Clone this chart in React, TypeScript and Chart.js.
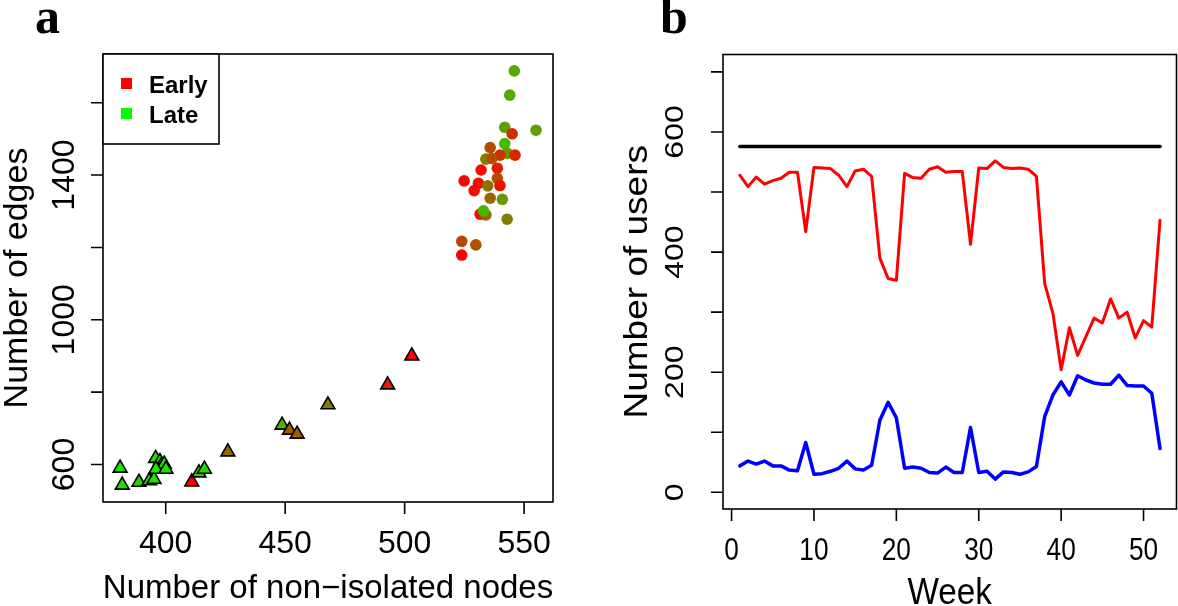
import React, { useEffect, useRef } from "react";
import { Chart, registerables } from "chart.js";

Chart.register(...registerables);

// ---------- Panel a: network size ----------
const circleNodes = [545.9, 544.0, 555.0, 541.9, 545.0, 541.9, 535.8, 543.0, 546.2, 539.9, 534.0, 536.5, 532.0, 538.8, 524.9, 530.9, 538.8, 534.8, 539.9, 529.1, 535.8, 540.9, 531.6, 534.0, 533.0, 542.9, 523.9, 529.8, 523.9];
const circleEdges = [1688, 1621, 1524, 1532, 1514, 1487, 1476, 1460, 1455, 1455, 1444, 1446, 1414, 1419, 1384, 1377, 1391, 1370, 1371, 1357, 1336, 1333, 1292, 1290, 1301, 1278, 1217, 1207, 1179];
const circleLateShare = [0.67, 0.67, 0.62, 0.62, 0.18, 0.72, 0.3, 0.6, 0.15, 0.2, 0.5, 0.3, 0.05, 0.12, 0.02, 0.05, 0.3, 0.45, 0.08, 0.05, 0.4, 0.6, 0.03, 0.4, 0.72, 0.5, 0.27, 0.33, 0.0];

const triNodes = [503.0, 492.9, 467.9, 448.7, 451.8, 455.0, 426.0, 380.9, 381.8, 388.8, 393.1, 395.1, 395.8, 397.6, 398.0, 399.4, 395.9, 400.1, 410.9, 413.9, 416.2];
const triEdges = [900, 820, 765, 709, 695, 684, 635, 590, 543, 551, 555, 559, 617, 608, 595, 601, 587, 587, 552, 577, 587];
const triLateShare = [0.0, 0.12, 0.5, 0.7, 0.35, 0.35, 0.4, 0.9, 0.88, 0.82, 0.85, 0.88, 0.88, 0.88, 0.9, 0.9, 0.9, 0.88, 0.0, 0.75, 0.85];

const legendLabels = ["Early", "Late"];
const aXTicks = [400, 450, 500, 550];
const aYTicks = [600, 800, 1000, 1200, 1400, 1600];
const aYLabelled = [600, 1000, 1400];
const aXTitle = "Number of non\u2212isolated nodes";
const aYTitle = "Number of edges";

// ---------- Panel b: weekly users ----------
const weeks = [1, 2, 3, 4, 5, 6, 7, 8, 9, 10, 11, 12, 13, 14, 15, 16, 17, 18, 19, 20, 21, 22, 23, 24, 25, 26, 27, 28, 29, 30, 31, 32, 33, 34, 35, 36, 37, 38, 39, 40, 41, 42, 43, 44, 45, 46, 47, 48, 49, 50, 51, 52];
const earlyUsers = [528, 509, 525, 513, 519, 523, 533, 533, 434, 541, 540, 539, 528, 509, 535, 538, 526, 390, 356, 353, 531, 524, 523, 538, 542, 533, 534, 534, 413, 540, 539, 552, 541, 539, 540, 538, 526, 348, 298, 204, 274, 228, 259, 290, 282, 322, 290, 300, 257, 286, 275, 453];
const lateUsers = [44, 52, 47, 52, 44, 44, 37, 36, 83, 30, 31, 35, 40, 52, 39, 37, 45, 120, 150, 124, 40, 42, 40, 33, 32, 42, 33, 33, 108, 33, 35, 22, 34, 33, 30, 34, 43, 126, 162, 184, 162, 194, 187, 182, 180, 180, 195, 178, 177, 177, 165, 73];
const totalUsers = 576;
const bXTicks = [0, 10, 20, 30, 40, 50];
const bYTicks = [0, 100, 200, 300, 400, 500, 600, 700];
const bYLabelled = [0, 200, 400, 600];
const bXTitle = "Week";
const bYTitle = "Number of users";

const SANS = '"Liberation Sans", Arial, Helvetica, sans-serif';
const SERIF = '"Liberation Serif", "Times New Roman", serif';

function mixColor(t: number) {
  return `rgb(${Math.round(255 * (1 - t))},${Math.round(255 * t)},0)`;
}

function drawText(
  ctx: CanvasRenderingContext2D,
  s: string,
  x: number,
  y: number,
  font: string,
  align: CanvasTextAlign,
  baseline: CanvasTextBaseline,
  rot = false,
  sx = 1
) {
  ctx.save();
  ctx.translate(x, y);
  ctx.scale(sx, 1);
  if (rot) ctx.rotate(-Math.PI / 2);
  ctx.font = font;
  ctx.textAlign = align;
  ctx.textBaseline = baseline;
  ctx.fillStyle = "#000";
  ctx.fillText(s, 0, 0);
  ctx.restore();
}

type AxisCfg = {
  xTicks: number[];
  yTicks: number[];
  yLabelled: number[];
  xTitle: string;
  yTitle: string;
  letter: string;
  letterX: number;
  tickSx: number;
  tickPx: number;
  titleSx: number;
  xTitlePx: number;
  yTitlePx: number;
  xLabelBase: number; // offset below plot bottom
  xTitleBase: number;
  yLabelBase: number; // absolute canvas x of baseline
  yTitleBase: number;
  legend?: boolean;
};

function makeAxesPlugin(cfg: AxisCfg) {
  return {
    id: "rStyleAxes",
    afterDraw(chart: any) {
      const { ctx, chartArea: ca, scales } = chart;
      const xs = scales.x;
      const ys = scales.y;
      const tickLen = 12;
      ctx.save();
      ctx.strokeStyle = "#000";
      ctx.lineWidth = 1.6;
      ctx.strokeRect(ca.left, ca.top, ca.right - ca.left, ca.bottom - ca.top);
      ctx.beginPath();
      for (const v of cfg.xTicks) {
        const px = xs.getPixelForValue(v);
        ctx.moveTo(px, ca.bottom);
        ctx.lineTo(px, ca.bottom + tickLen);
      }
      for (const v of cfg.yTicks) {
        const py = ys.getPixelForValue(v);
        ctx.moveTo(ca.left, py);
        ctx.lineTo(ca.left - tickLen, py);
      }
      ctx.stroke();
      const tickFont = `${cfg.tickPx}px ${SANS}`;
      for (const v of cfg.xTicks) {
        drawText(ctx, String(v), xs.getPixelForValue(v), ca.bottom + cfg.xLabelBase, tickFont, "center", "alphabetic", false, cfg.tickSx);
      }
      for (const v of cfg.yLabelled) {
        drawText(ctx, String(v), cfg.yLabelBase, ys.getPixelForValue(v), tickFont, "center", "alphabetic", true, cfg.tickSx);
      }
      drawText(ctx, cfg.xTitle, (ca.left + ca.right) / 2, ca.bottom + cfg.xTitleBase, `${cfg.xTitlePx}px ${SANS}`, "center", "alphabetic", false, cfg.titleSx);
      drawText(ctx, cfg.yTitle, cfg.yTitleBase, (ca.top + ca.bottom) / 2, `${cfg.yTitlePx}px ${SANS}`, "center", "alphabetic", true, cfg.titleSx);
      drawText(ctx, cfg.letter, cfg.letterX, 33, `bold 50px ${SERIF}`, "left", "alphabetic", false, 1);

      if (cfg.legend) {
        const lx = ca.left;
        const ly = ca.top;
        ctx.fillStyle = "#fff";
        ctx.fillRect(lx, ly, 116, 90);
        ctx.strokeRect(lx, ly, 116, 90);
        const colors = [mixColor(0), mixColor(1)];
        legendLabels.forEach((lab, i) => {
          ctx.fillStyle = colors[i];
          ctx.fillRect(lx + 18, ly + 24 + i * 30, 11, 11);
          drawText(ctx, lab, lx + 46, ly + 39 + i * 30, `bold 24px ${SANS}`, "left", "alphabetic");
        });
      }
      ctx.restore();
    },
  };
}

function PanelA() {
  const ref = useRef<HTMLCanvasElement>(null);
  useEffect(() => {
    const circles = circleNodes.map((x, i) => ({ x, y: circleEdges[i] }));
    const tris = triNodes.map((x, i) => ({ x, y: triEdges[i] }));
    const chart = new Chart(ref.current!, {
      type: "scatter",
      data: {
        datasets: [
          {
            data: circles,
            pointRadius: 5.8,
            pointBorderWidth: 0,
            pointBackgroundColor: circleLateShare.map(mixColor),
            pointBorderColor: circleLateShare.map(mixColor),
          },
          {
            data: tris,
            pointStyle: "triangle",
            pointRadius: 8,
            pointBorderWidth: 1.6,
            pointBorderColor: "#000",
            pointBackgroundColor: triLateShare.map(mixColor),
          },
        ],
      },
      options: {
        responsive: false,
        animation: false,
        events: [],
        layout: { padding: { left: 103, top: 54, right: 36, bottom: 104 } },
        plugins: { legend: { display: false }, tooltip: { enabled: false } },
        scales: {
          x: { type: "linear", display: false, min: 373.75, max: 562.1 },
          y: { type: "linear", display: false, min: 496.4, max: 1734.6 },
        },
      },
      plugins: [
        makeAxesPlugin({
          xTicks: aXTicks,
          yTicks: aYTicks,
          yLabelled: aYLabelled,
          xTitle: aXTitle,
          yTitle: aYTitle,
          letter: "a",
          letterX: 35,
          tickSx: 1,
          tickPx: 32,
          titleSx: 1,
          xTitlePx: 33,
          yTitlePx: 34,
          xLabelBase: 51,
          xTitleBase: 96,
          yLabelBase: 74,
          yTitleBase: 27,
          legend: true,
        }),
      ],
    });
    return () => chart.destroy();
  }, []);
  return <canvas ref={ref} width={589} height={606} style={{ position: "absolute", left: 0, top: 0 }} />;
}

function PanelB() {
  const ref = useRef<HTMLCanvasElement>(null);
  useEffect(() => {
    const early = weeks.map((w, i) => ({ x: w, y: earlyUsers[i] }));
    const late = weeks.map((w, i) => ({ x: w, y: lateUsers[i] }));
    const total = [
      { x: weeks[0], y: totalUsers },
      { x: weeks[weeks.length - 1], y: totalUsers },
    ];
    const common = { pointRadius: 0, tension: 0, borderJoinStyle: "round" as const, borderCapStyle: "round" as const, fill: false };
    const chart = new Chart(ref.current!, {
      type: "line",
      data: {
        datasets: [
          { data: total, borderColor: "#000", borderWidth: 3.5, ...common },
          { data: early, borderColor: "#ff0000", borderWidth: 3, ...common },
          { data: late, borderColor: "#0000ff", borderWidth: 3.5, ...common },
        ],
      },
      options: {
        responsive: false,
        animation: false,
        events: [],
        layout: { padding: { left: 134, top: 54.5, right: 1.5, bottom: 97 } },
        plugins: { legend: { display: false }, tooltip: { enabled: false } },
        scales: {
          x: { type: "linear", display: false, min: -1.04, max: 54.0 },
          y: { type: "linear", display: false, min: -27.8, max: 729 },
        },
      },
      plugins: [
        makeAxesPlugin({
          xTicks: bXTicks,
          yTicks: bYTicks,
          yLabelled: bYLabelled,
          xTitle: bXTitle,
          yTitle: bYTitle,
          letter: "b",
          letterX: 71,
          tickSx: 0.82,
          tickPx: 32,
          titleSx: 0.9,
          xTitlePx: 37,
          yTitlePx: 37,
          xLabelBase: 51,
          xTitleBase: 95,
          yLabelBase: 94,
          yTitleBase: 58,
        }),
      ],
    });
    return () => chart.destroy();
  }, []);
  return <canvas ref={ref} width={589} height={606} style={{ position: "absolute", left: 589, top: 0 }} />;
}

export default function App() {
  return (
    <div style={{ position: "fixed", left: 0, top: 0, width: 1178, height: 606, background: "#fff", overflow: "hidden" }}>
      <PanelA />
      <PanelB />
    </div>
  );
}
